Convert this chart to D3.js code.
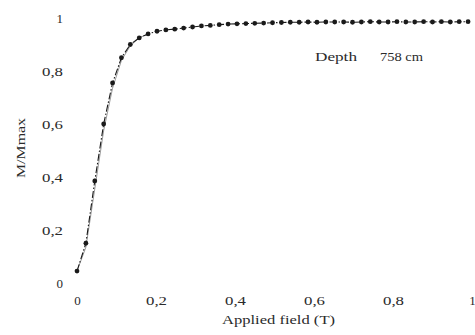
<!DOCTYPE html>
<html>
<head>
<meta charset="utf-8">
<script src="https://cdn.jsdelivr.net/npm/d3@7"></script>
<style>
  html, body { margin: 0; padding: 0; background: #fff; }
  svg { display: block; }
  text { font-family: "Liberation Serif", "DejaVu Serif", serif; fill: #2a2a2a; }
</style>
</head>
<body>
<svg id="chart" width="475" height="335"></svg>
<script>
// Applied field steps (T)
const field = [0, 0.0225, 0.045, 0.0675, 0.09, 0.1125, 0.135, 0.1575, 0.18, 0.2025,
  0.225, 0.2475, 0.27, 0.2925, 0.315, 0.3375, 0.36, 0.3825, 0.405, 0.4275,
  0.45, 0.4725, 0.495, 0.5175, 0.54, 0.5625, 0.585, 0.6075, 0.63, 0.6525,
  0.675, 0.6975, 0.72, 0.7425, 0.765, 0.7875, 0.81, 0.8325, 0.855, 0.8775,
  0.9, 0.9225, 0.945, 0.9675, 0.99];

// Normalised magnetisation M/Mmax, measured
const magnetisation = [0.045, 0.15, 0.385, 0.60, 0.755, 0.85, 0.90, 0.925, 0.94, 0.95,
  0.955, 0.958, 0.962, 0.966, 0.970, 0.972, 0.975, 0.977, 0.978, 0.979,
  0.980, 0.981, 0.982, 0.983, 0.984, 0.984, 0.985, 0.984, 0.985, 0.985,
  0.985, 0.984, 0.985, 0.986, 0.985, 0.985, 0.986, 0.985, 0.985, 0.986,
  0.985, 0.986, 0.985, 0.986, 0.986];

// Fitted curve (thin grey), low-field part
const fitField = [0, 0.0225, 0.045, 0.0675, 0.09, 0.1125, 0.135, 0.1575, 0.18];
const fitValues = [0.045, 0.135, 0.355, 0.575, 0.735, 0.84, 0.895, 0.925, 0.94];

const xTicks = [0, 0.2, 0.4, 0.6, 0.8, 1];
const yTicks = [0, 0.2, 0.4, 0.6, 0.8, 1];

const xTitle = "Applied field (T)";
const yTitle = "M/Mmax";
const note = ["Depth", "758 cm"];

const svg = d3.select("#chart");
const x = d3.scaleLinear().domain([0, 1]).range([77, 472]);
const y = d3.scaleLinear().domain([0, 1]).range([283, 18]);

const comma = d3.formatLocale({decimal: ",", thousands: ".", grouping: [3], currency: ["", ""]});
const fmt = v => v === 0 || v === 1 ? String(v) : comma.format(".1f")(v);

// Widen a text element horizontally to a given length
function widen(sel, len) {
  sel.attr("textLength", len).attr("lengthAdjust", "spacingAndGlyphs");
}

// Axes: labels only, no lines
const xAxis = svg.append("g")
  .attr("transform", "translate(0,292)")
  .call(d3.axisBottom(x).tickValues(xTicks).tickFormat(fmt).tickSize(0).tickPadding(4));
xAxis.select(".domain").remove();
xAxis.selectAll("text")
  .style("font-family", "'Liberation Serif', serif").style("font-size", "13px").attr("fill", "#2a2a2a")
  .each(function(d) { if (d !== 0 && d !== 1) widen(d3.select(this), 21); });

const yAxis = svg.append("g")
  .attr("transform", "translate(65,0)")
  .call(d3.axisLeft(y).tickValues(yTicks).tickFormat(fmt).tickSize(0).tickPadding(2));
yAxis.select(".domain").remove();
yAxis.selectAll("text")
  .style("font-family", "'Liberation Serif', serif").style("font-size", "13px").attr("fill", "#2a2a2a")
  .each(function(d) { if (d !== 0 && d !== 1) widen(d3.select(this), 21); });

// Fitted curve
svg.append("path")
  .datum(fitField.map((f, i) => [f, fitValues[i]]))
  .attr("fill", "none")
  .attr("stroke", "#9a9a9a")
  .attr("stroke-width", 1)
  .attr("d", d3.line().x(d => x(d[0])).y(d => y(d[1])));

// Measured curve
const pts = field.map((f, i) => [f, magnetisation[i]]);
svg.append("path")
  .datum(pts)
  .attr("fill", "none")
  .attr("stroke", "#1a1a1a")
  .attr("stroke-width", 1.1)
  .attr("stroke-dasharray", "7,2,1.5,2")
  .attr("d", d3.line().x(d => x(d[0])).y(d => y(d[1])));

svg.append("g").selectAll("circle")
  .data(pts)
  .join("circle")
  .attr("cx", d => x(d[0]))
  .attr("cy", d => y(d[1]))
  .attr("r", 2.4)
  .attr("fill", "#1a1a1a");

// Annotation
svg.append("text").attr("x", 315).attr("y", 61).style("font-size", "13px").text(note[0]).call(widen, 42);
svg.append("text").attr("x", 380).attr("y", 61).style("font-size", "13px").text(note[1]).call(widen, 43);

// Axis titles
svg.append("text")
  .attr("x", 222).attr("y", 324)
  .style("font-size", "13px")
  .text(xTitle)
  .call(widen, 113);

svg.append("text")
  .attr("transform", "translate(25,178) rotate(-90)")
  .style("font-size", "13px")
  .text(yTitle)
  .call(widen, 60);
</script>
</body>
</html>
